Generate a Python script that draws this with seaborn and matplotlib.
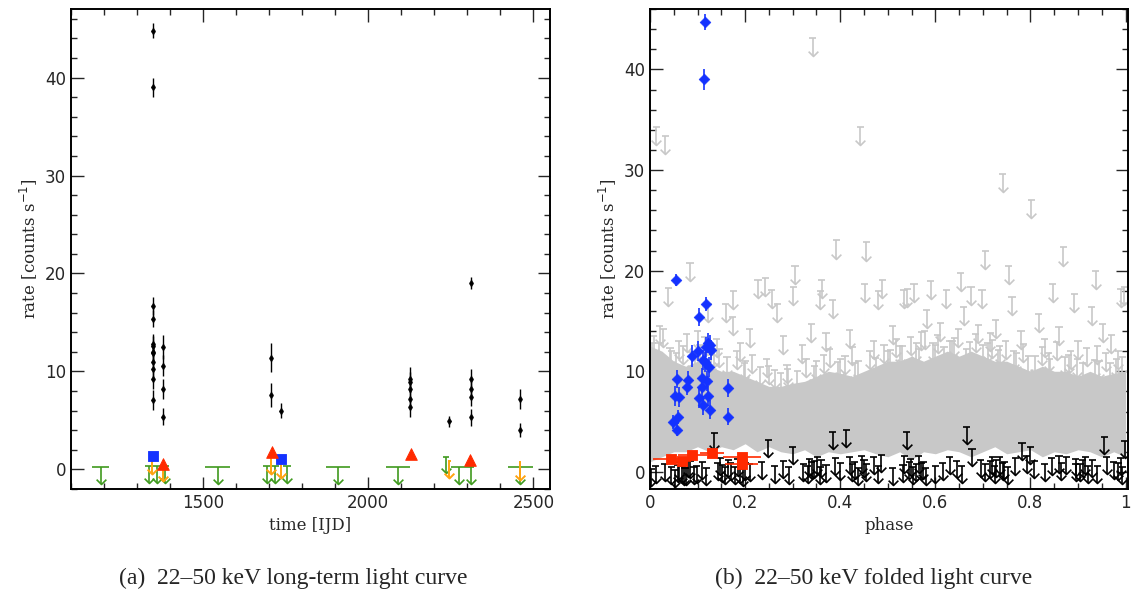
import numpy as np
import pandas as pd
import seaborn as sns
import matplotlib.pyplot as plt
from matplotlib.path import Path
from matplotlib.ticker import MultipleLocator, FormatStrFormatter

sns.set_style("ticks")
plt.rcParams['font.family'] = ['DejaVu Sans']

# ---- (a) long-term light curve ----
det_time = [1347, 1347, 1347, 1347, 1347, 1347, 1347, 1347, 1347, 1347, 1347, 1347,
            1377, 1377, 1377, 1377, 1705, 1705, 1735,
            2126, 2126, 2126, 2126, 2126, 2245,
            2311, 2311, 2311, 2311, 2311, 2459, 2459]
det_rate = [44.8, 39.0, 16.7, 15.4, 12.8, 12.6, 12.0, 11.9, 11.0, 10.2, 9.2, 7.1,
            12.5, 10.6, 8.2, 5.4, 11.4, 7.6, 6.0,
            9.2, 8.9, 8.2, 7.2, 6.4, 4.9,
            19.0, 9.2, 8.2, 7.4, 5.3, 7.2, 4.0]
det_err = [0.8, 1.0, 0.9, 0.9, 1.0, 1.0, 1.0, 1.0, 1.0, 1.0, 1.0, 1.0,
           1.2, 1.1, 1.0, 0.9, 1.5, 1.2, 0.8,
           1.3, 1.0, 1.0, 1.0, 1.0, 0.6,
           0.6, 1.0, 1.0, 0.9, 0.9, 1.0, 0.7]

green_time = [1190, 1335, 1361, 1384, 1544, 1694, 1719, 1753, 1909, 2090, 2235, 2276, 2311, 2460]
green_rate = [0.2, 0.3, 0.3, 0.3, 0.2, 0.3, 0.3, 0.3, 0.2, 0.2, 1.3, 0.2, 0.2, 0.2]
green_half = [25, 12, 12, 12, 38, 12, 12, 12, 36, 36, 8, 26, 8, 38]

orange_time = [1345, 1378, 1705, 1735, 2245, 2459]
orange_rate = [1.3, 0.6, 1.3, 0.9, 0.9, 0.75]

sq_time = [1348, 1735]
sq_rate = [1.4, 1.06]
tri_time = [1379, 1707, 2128, 2309]
tri_rate = [0.6, 1.74, 1.57, 0.96]

# ---- (b) folded light curve ----
blue_phase = [0.116, 0.114, 0.055, 0.118, 0.103, 0.121, 0.126, 0.118, 0.101, 0.128,
              0.088, 0.111, 0.116, 0.123, 0.056, 0.109, 0.079, 0.119, 0.077, 0.109,
              0.165, 0.053, 0.061, 0.104, 0.122, 0.111, 0.126, 0.049, 0.058, 0.165, 0.056]
blue_rate = [44.7, 39.0, 19.1, 16.7, 15.4, 12.8, 12.6, 12.4, 12.0, 12.1,
             11.5, 11.1, 10.9, 10.4, 9.2, 9.3, 9.1, 9.0, 8.4, 8.4,
             8.3, 7.5, 7.4, 7.3, 7.5, 6.6, 6.2, 5.0, 5.5, 5.5, 4.2]
blue_err = [0.8, 1.0, 0.6, 0.7, 0.9, 1.0, 1.0, 1.0, 1.0, 1.0,
            1.1, 1.0, 1.0, 1.0, 0.9, 1.0, 0.9, 1.0, 0.8, 1.0,
            0.9, 1.0, 1.0, 1.0, 1.0, 0.9, 0.9, 0.7, 0.7, 0.8, 0.6]

red_phase = [0.044, 0.067, 0.089, 0.131, 0.194, 0.193]
red_rate = [1.26, 1.06, 1.65, 1.85, 1.49, 0.83]
red_half = [0.038, 0.02, 0.03, 0.025, 0.04, 0.035]

# dense part of the grey upper-limit cloud (envelope)
band_phase = [0.0, 0.025, 0.05, 0.075, 0.1, 0.125, 0.15, 0.175, 0.2, 0.225,
              0.25, 0.275, 0.3, 0.325, 0.35, 0.375, 0.4, 0.425, 0.45, 0.475,
              0.5, 0.525, 0.55, 0.575, 0.6, 0.625, 0.65, 0.675, 0.7, 0.725,
              0.75, 0.775, 0.8, 0.825, 0.85, 0.875, 0.9, 0.925, 0.95, 0.975, 1.0]
band_hi = [12.5, 12.0, 11.0, 10.5, 11.0, 10.5, 10.0, 10.0, 9.5, 9.0,
           8.5, 8.5, 8.8, 9.0, 9.5, 10.0, 9.8, 9.5, 10.0, 10.5,
           11.0, 11.0, 11.5, 11.0, 11.5, 12.0, 11.5, 12.0, 11.5, 11.0,
           11.0, 10.5, 10.0, 10.5, 10.0, 10.0, 9.5, 10.0, 9.5, 9.8, 10.0]
band_lo = [1.0, 1.5, 2.0, 2.0, 2.5, 2.0, 2.5, 2.2, 2.8, 2.0,
           2.5, 2.0, 1.8, 2.2, 1.5, 2.0, 1.8, 2.0, 2.2, 1.8,
           1.5, 2.0, 1.2, 2.0, 1.8, 2.2, 2.0, 1.5, 2.0, 2.5,
           1.8, 2.0, 2.2, 1.5, 2.0, 1.8, 2.2, 2.0, 1.5, 2.0, 1.5]

gray_phase = [0.013, 0.032, 0.342, 0.442, 0.742, 0.802, 0.392, 0.455, 0.869, 0.084,
              0.305, 0.937, 0.99, 0.242, 0.175, 0.653, 0.705, 0.754, 0.48, 0.541,
              0.59, 0.358, 0.038, 0.077, 0.122, 0.159, 0.174, 0.227, 0.256, 0.268,
              0.301, 0.339, 0.361, 0.384, 0.451, 0.488, 0.533, 0.555, 0.582, 0.623,
              0.66, 0.675, 0.698, 0.727, 0.761, 0.817, 0.847, 0.892, 0.929, 0.952,
              0.997, 0.02, 0.06, 0.1, 0.14, 0.19, 0.21, 0.28, 0.32, 0.37,
              0.42, 0.47, 0.51, 0.57, 0.61, 0.64, 0.69, 0.72, 0.78, 0.83,
              0.86, 0.9, 0.94, 0.97, 0.005, 0.045, 0.095, 0.135, 0.2, 0.25,
              0.29, 0.35, 0.4, 0.43, 0.5, 0.525, 0.56, 0.6, 0.63, 0.665,
              0.71, 0.735, 0.77, 0.81, 0.84, 0.88, 0.91, 0.945, 0.98,
              0.008, 0.018, 0.028, 0.042, 0.055, 0.07, 0.088, 0.105, 0.115, 0.128,
              0.145, 0.162, 0.182, 0.198, 0.215, 0.232, 0.245, 0.262, 0.275, 0.288,
              0.31, 0.328, 0.345, 0.365, 0.378, 0.395, 0.41, 0.425, 0.438, 0.462,
              0.475, 0.492, 0.505, 0.518, 0.53, 0.548, 0.565, 0.578, 0.595, 0.605,
              0.618, 0.635, 0.648, 0.672, 0.685, 0.7, 0.715, 0.732, 0.748, 0.765,
              0.785, 0.795, 0.825, 0.838, 0.855, 0.872, 0.885, 0.898, 0.918, 0.935,
              0.958, 0.968, 0.985, 0.993]
gray_rate = [34.3, 33.4, 43.1, 34.3, 29.6, 27.0, 23.0, 22.8, 22.3, 20.8,
             20.5, 20.0, 18.2, 19.3, 18.0, 19.8, 22.0, 20.5, 18.0, 18.2,
             19.0, 18.0, 18.3, 13.7, 16.7, 16.7, 15.4, 19.1, 18.1, 16.7,
             18.4, 14.7, 19.1, 17.1, 18.7, 19.1, 18.1, 18.7, 16.1, 18.1,
             16.4, 18.4, 18.1, 15.1, 17.4, 15.7, 18.7, 17.7, 16.4, 14.7,
             18.4, 14.5, 13.0, 14.0, 13.2, 12.8, 14.2, 13.5, 12.6, 13.8,
             14.1, 13.0, 14.5, 13.9, 14.8, 13.3, 14.6, 13.1, 14.0, 13.2,
             14.4, 13.0, 12.5, 13.6, 12.8, 12.0, 11.8, 12.2, 11.0, 10.5,
             10.2, 11.0, 11.2, 10.8, 12.0, 12.5, 12.8, 12.6, 13.0, 12.2,
             12.8, 12.5, 11.8, 11.5, 11.2, 11.6, 10.8, 11.0, 11.2,
             13.5, 12.8, 14.2, 12.3, 11.8, 12.5, 11.9, 12.6, 13.4, 11.6,
             12.2, 11.4, 12.0, 10.8, 11.6, 10.4, 11.2, 10.1, 9.8, 10.6,
             10.0, 11.2, 10.5, 11.6, 12.2, 10.9, 11.5, 12.4, 11.0, 12.0,
             11.3, 12.6, 12.1, 13.2, 12.5, 13.4, 12.2, 14.0, 12.8, 13.6,
             12.4, 13.0, 14.2, 12.9, 13.7, 12.6, 13.8, 12.1, 13.0, 12.0,
             12.7, 11.5, 12.4, 11.8, 12.9, 11.4, 12.0, 11.2, 12.3, 11.1,
             11.8, 10.8, 12.0, 11.4]

black_phase = [0.002, 0.012, 0.031, 0.045, 0.052, 0.062, 0.068, 0.072, 0.08, 0.092,
               0.11, 0.118, 0.135, 0.148, 0.152, 0.17, 0.178, 0.185, 0.19, 0.21,
               0.235, 0.249, 0.262, 0.28, 0.292, 0.3, 0.322, 0.335, 0.34, 0.352,
               0.36, 0.37, 0.384, 0.39, 0.4, 0.413, 0.42, 0.43, 0.445, 0.455,
               0.47, 0.48, 0.486, 0.51, 0.535, 0.54, 0.548, 0.56, 0.565, 0.575,
               0.6, 0.615, 0.63, 0.645, 0.655, 0.666, 0.677, 0.695, 0.705, 0.72,
               0.728, 0.735, 0.745, 0.768, 0.782, 0.792, 0.8, 0.808, 0.83, 0.845,
               0.86, 0.865, 0.875, 0.895, 0.905, 0.915, 0.93, 0.94, 0.955, 0.96,
               0.975, 0.99, 0.998,
               0.058, 0.075, 0.085, 0.098, 0.142, 0.158, 0.165, 0.195, 0.2, 0.332,
               0.345, 0.358, 0.425, 0.438, 0.45, 0.532, 0.545, 0.552, 0.57, 0.58,
               0.715, 0.725, 0.742, 0.752, 0.895, 0.91, 0.92, 0.985, 0.993]
black_rate = [0.3, 0.6, 0.8, 0.5, 0.2, 1.0, 0.6, 0.4, 1.2, 0.5,
              1.0, 0.4, 3.9, 1.4, 0.7, 0.9, 0.5, 1.3, 0.6, 0.8,
              1.0, 3.2, 0.6, 1.1, 0.5, 2.5, 0.8, 1.3, 1.0, 1.5,
              1.2, 0.7, 4.0, 1.4, 0.9, 4.2, 1.5, 1.0, 1.6, 0.8,
              1.5, 0.6, 1.7, 0.4, 1.6, 4.0, 1.3, 0.8, 1.6, 1.0,
              0.6, 0.9, 1.5, 1.1, 0.6, 4.5, 2.3, 1.2, 0.8, 1.5,
              1.2, 1.5, 1.0, 1.4, 2.9, 1.6, 2.5, 1.1, 0.8, 1.4,
              1.6, 0.9, 1.5, 1.3, 0.8, 1.5, 1.2, 0.6, 3.5, 1.5,
              1.0, 1.4, 3.1,
              0.7, 0.4, 1.1, 0.6, 0.9, 0.5, 1.2, 0.3, 0.9, 0.6,
              1.1, 0.5, 0.8, 0.4, 1.2, 0.7, 1.0, 0.5, 0.9, 0.4,
              1.1, 0.6, 0.9, 0.5, 0.8, 1.2, 0.6, 0.9, 0.5]

GRAY = '#c8c8c8'
GREEN = '#3f9a1e'
ORANGE = '#ffa310'
BLUE = '#1432ff'
RED = '#ff2a00'

V_HEAD = Path([(-1, 1), (0, 0), (1, 1)], [Path.MOVETO, Path.LINETO, Path.LINETO])


def draw_limits(ax, x, y, color, length, cap, lw=1.2, head=7, zorder=2):
    """Upper limits: cap at the value, shaft and open arrow head pointing down."""
    x = np.asarray(x, float)
    y = np.asarray(y, float)
    cap = np.broadcast_to(np.asarray(cap, float), x.shape)
    ax.vlines(x, y - length, y, color=color, lw=lw, zorder=zorder)
    ax.hlines(y, x - cap, x + cap, color=color, lw=lw, zorder=zorder)
    ax.plot(x, y - length, ls='none', marker=V_HEAD, ms=head, mfc='none',
            mec=color, mew=lw, zorder=zorder)


def style_axis(ax):
    ax.tick_params(which='both', direction='in', top=True, right=True,
                   labelsize=12, width=1.0)
    ax.tick_params(which='major', length=9)
    ax.tick_params(which='minor', length=4.5)
    for sp in ax.spines.values():
        sp.set_linewidth(1.4)
        sp.set_color('black')
    ax.yaxis.set_major_locator(MultipleLocator(10))
    ax.yaxis.set_minor_locator(MultipleLocator(2))
    ax.set_ylabel('rate [counts s$^{-1}$]', family='DejaVu Serif', fontsize=12)


fig = plt.figure(figsize=(11.34, 5.98), dpi=100)
ax1 = fig.add_axes([71 / 1134, 109 / 598, 479 / 1134, 480 / 598])
ax2 = fig.add_axes([650 / 1134, 109 / 598, 478 / 1134, 480 / 598])

# panel (a)
draw_limits(ax1, green_time, green_rate, GREEN, 1.7, green_half, lw=1.2)
draw_limits(ax1, orange_time, orange_rate, ORANGE, 1.8, 4, lw=1.4)
ax1.errorbar(det_time, det_rate, yerr=det_err, xerr=4, fmt='none', ecolor='black',
             elinewidth=1.0, capsize=0, zorder=3)
det = pd.DataFrame({'time': det_time, 'rate': det_rate})
sns.scatterplot(data=det, x='time', y='rate', ax=ax1, marker='d', s=14,
                color='black', edgecolor='black', zorder=4, legend=False)
sns.scatterplot(x=sq_time, y=sq_rate, ax=ax1, marker='s', s=60, color=BLUE,
                edgecolor=BLUE, zorder=5, legend=False)
sns.scatterplot(x=tri_time, y=tri_rate, ax=ax1, marker='^', s=70, color=RED,
                edgecolor=RED, zorder=5, legend=False)

ax1.set_xlim(1100, 2550)
ax1.set_ylim(-2, 47)
ax1.xaxis.set_major_locator(MultipleLocator(500))
ax1.xaxis.set_minor_locator(MultipleLocator(100))
style_axis(ax1)
ax1.set_xlabel('time [IJD]', family='DejaVu Serif', fontsize=12)

# panel (b)
ax2.fill_between(band_phase, band_lo, band_hi, color=GRAY, lw=0, zorder=1)
draw_limits(ax2, gray_phase, gray_rate, GRAY, 1.8, 0.0075, lw=1.2, zorder=1)
draw_limits(ax2, black_phase, black_rate, 'black', 1.7, 0.0075, lw=1.2, zorder=2)
ax2.errorbar(blue_phase, blue_rate, yerr=blue_err, fmt='none', ecolor=BLUE,
             elinewidth=1.2, capsize=0, zorder=3)
fold = pd.DataFrame({'phase': blue_phase, 'rate': blue_rate})
sns.scatterplot(data=fold, x='phase', y='rate', ax=ax2, marker='D', s=30,
                color=BLUE, edgecolor=BLUE, zorder=4, legend=False)
ax2.errorbar(red_phase, red_rate, xerr=red_half, fmt='none', ecolor=RED,
             elinewidth=1.2, capsize=0, zorder=4)
sns.scatterplot(x=red_phase, y=red_rate, ax=ax2, marker='s', s=60, color=RED,
                edgecolor=RED, zorder=5, legend=False)

ax2.set_xlim(0, 1.005)
ax2.set_ylim(-1.7, 46)
ax2.xaxis.set_major_locator(MultipleLocator(0.2))
ax2.xaxis.set_minor_locator(MultipleLocator(0.05))
ax2.xaxis.set_major_formatter(FormatStrFormatter('%g'))
style_axis(ax2)
ax2.set_xlabel('phase', family='DejaVu Serif', fontsize=12)

fig.text(293 / 1134, 1 - 578 / 598, '(a)  22–50 keV long-term light curve',
         family='Liberation Serif', fontsize=17, ha='center', va='center')
fig.text(874 / 1134, 1 - 578 / 598, '(b)  22–50 keV folded light curve',
         family='Liberation Serif', fontsize=17, ha='center', va='center')

fig.savefig('out.png', dpi=100)
